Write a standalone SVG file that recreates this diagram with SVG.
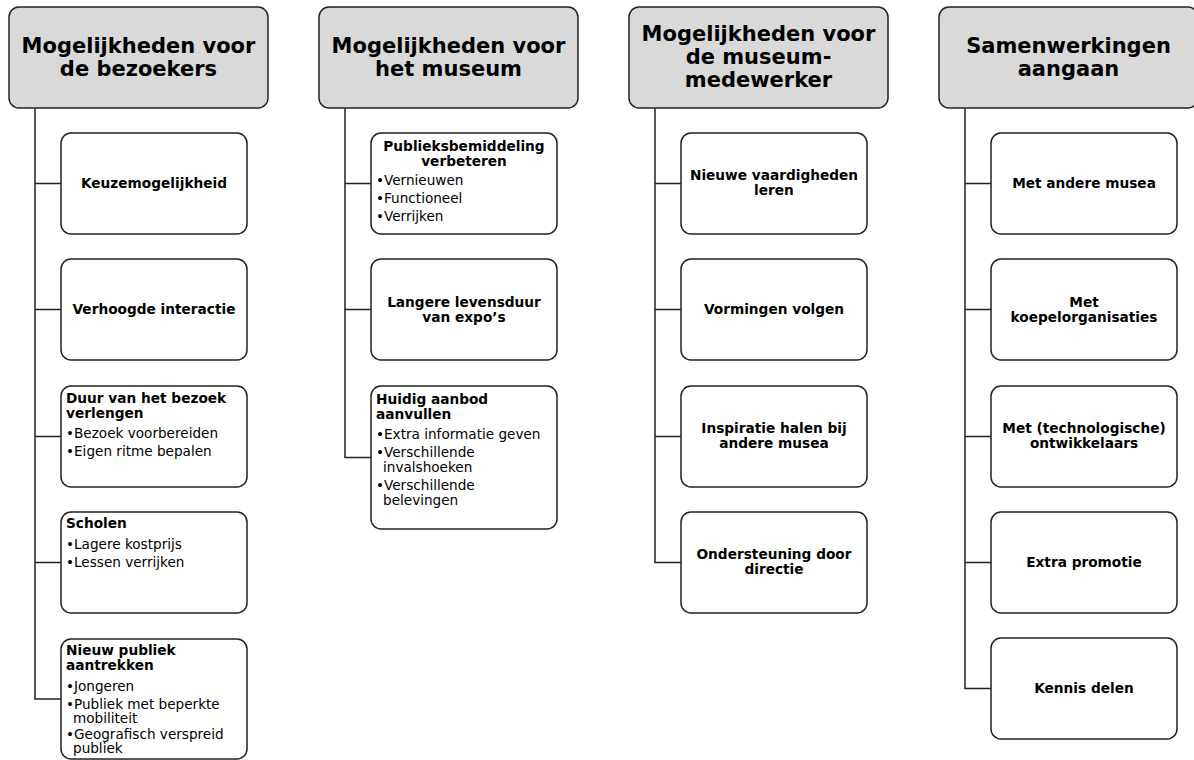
<svg xmlns="http://www.w3.org/2000/svg" width="1194" height="760" viewBox="0 0 1194 760">
<style>
.hd{fill:#d9d9d9;stroke:#222;stroke-width:1.5}
.bx{fill:#fff;stroke:#222;stroke-width:1.5}
.ht{font-family:"DejaVu Sans",Verdana,sans-serif;font-weight:bold;font-size:21px;fill:#000;text-anchor:middle}
.ct{font-family:"DejaVu Sans",Verdana,sans-serif;font-weight:bold;font-size:13.7px;fill:#000;text-anchor:middle}
.lh{font-family:"DejaVu Sans",Verdana,sans-serif;font-weight:bold;font-size:13.7px;fill:#000}
.bt{font-family:"DejaVu Sans",Verdana,sans-serif;font-size:13.6px;fill:#000}
.cn{fill:none;stroke:#222;stroke-width:1.5}
</style>
<rect width="1194" height="760" fill="#fff"/>
<g id="connectors">
<path class="cn" d="M35 108V699H61M35 183.5H61M35 309.5H61M35 436.5H61M35 562.5H61"/>
<path class="cn" d="M345 108V457.5H371M345 183.5H371M345 309.5H371"/>
<path class="cn" d="M655 108V562.5H681M655 183.5H681M655 309.5H681M655 436.5H681"/>
<path class="cn" d="M965 108V688.5H991M965 183.5H991M965 309.5H991M965 436.5H991M965 562.5H991"/>
</g>
<g id="h1"><rect class="hd" x="9" y="7" width="259" height="101" rx="10"/><text class="ht" x="138.5" y="53">Mogelijkheden voor</text><text class="ht" x="138.5" y="76">de bezoekers</text></g>
<g id="h2"><rect class="hd" x="319" y="7" width="259" height="101" rx="10"/><text class="ht" x="448.5" y="53">Mogelijkheden voor</text><text class="ht" x="448.5" y="76">het museum</text></g>
<g id="h3"><rect class="hd" x="629" y="7" width="259" height="101" rx="10"/><text class="ht" x="758.5" y="41">Mogelijkheden voor</text><text class="ht" x="758.5" y="64">de museum-</text><text class="ht" x="758.5" y="87">medewerker</text></g>
<g id="h4"><rect class="hd" x="939" y="7" width="259" height="101" rx="10"/><text class="ht" x="1068.5" y="53">Samenwerkingen</text><text class="ht" x="1068.5" y="76">aangaan</text></g>

<g id="c1n1"><rect class="bx" x="61" y="133" width="186" height="101" rx="10"/><text class="ct" x="154" y="188">Keuzemogelijkheid</text></g>
<g id="c1n2"><rect class="bx" x="61" y="259" width="186" height="101" rx="10"/><text class="ct" x="154" y="314">Verhoogde interactie</text></g>
<g id="c1n3"><rect class="bx" x="61" y="386" width="186" height="101" rx="10"/><text class="lh" x="66" y="403">Duur van het bezoek</text><text class="lh" x="66" y="418">verlengen</text><text class="bt" x="66" y="438">•Bezoek voorbereiden</text><text class="bt" x="66" y="456">•Eigen ritme bepalen</text></g>
<g id="c1n4"><rect class="bx" x="61" y="512" width="186" height="101" rx="10"/><text class="lh" x="66" y="528">Scholen</text><text class="bt" x="66" y="549">•Lagere kostprijs</text><text class="bt" x="66" y="567">•Lessen verrijken</text></g>
<g id="c1n5"><rect class="bx" x="61" y="639" width="186" height="120" rx="10"/><text class="lh" x="66" y="655">Nieuw publiek</text><text class="lh" x="66" y="670">aantrekken</text><text class="bt" x="66" y="691">•Jongeren</text><text class="bt" x="66" y="709">•Publiek met beperkte</text><text class="bt" x="73" y="723">mobiliteit</text><text class="bt" x="66" y="739">•Geografisch verspreid</text><text class="bt" x="73" y="753">publiek</text></g>

<g id="c2n1"><rect class="bx" x="371" y="133" width="186" height="101" rx="10"/><text class="ct" x="464" y="151">Publieksbemiddeling</text><text class="ct" x="464" y="166">verbeteren</text><text class="bt" x="376" y="185">•Vernieuwen</text><text class="bt" x="376" y="203">•Functioneel</text><text class="bt" x="376" y="221">•Verrijken</text></g>
<g id="c2n2"><rect class="bx" x="371" y="259" width="186" height="101" rx="10"/><text class="ct" x="464" y="307">Langere levensduur</text><text class="ct" x="464" y="322">van expo’s</text></g>
<g id="c2n3"><rect class="bx" x="371" y="386" width="186" height="143" rx="10"/><text class="lh" x="376" y="404">Huidig aanbod</text><text class="lh" x="376" y="419">aanvullen</text><text class="bt" x="376" y="439">•Extra informatie geven</text><text class="bt" x="376" y="457">•Verschillende</text><text class="bt" x="383" y="472">invalshoeken</text><text class="bt" x="376" y="490">•Verschillende</text><text class="bt" x="383" y="505">belevingen</text></g>

<g id="c3n1"><rect class="bx" x="681" y="133" width="186" height="101" rx="10"/><text class="ct" x="774" y="180">Nieuwe vaardigheden</text><text class="ct" x="774" y="195">leren</text></g>
<g id="c3n2"><rect class="bx" x="681" y="259" width="186" height="101" rx="10"/><text class="ct" x="774" y="314">Vormingen volgen</text></g>
<g id="c3n3"><rect class="bx" x="681" y="386" width="186" height="101" rx="10"/><text class="ct" x="774" y="433">Inspiratie halen bij</text><text class="ct" x="774" y="448">andere musea</text></g>
<g id="c3n4"><rect class="bx" x="681" y="512" width="186" height="101" rx="10"/><text class="ct" x="774" y="559">Ondersteuning door</text><text class="ct" x="774" y="574">directie</text></g>

<g id="c4n1"><rect class="bx" x="991" y="133" width="186" height="101" rx="10"/><text class="ct" x="1084" y="188">Met andere musea</text></g>
<g id="c4n2"><rect class="bx" x="991" y="259" width="186" height="101" rx="10"/><text class="ct" x="1084" y="307">Met</text><text class="ct" x="1084" y="322">koepelorganisaties</text></g>
<g id="c4n3"><rect class="bx" x="991" y="386" width="186" height="101" rx="10"/><text class="ct" x="1084" y="433">Met (technologische)</text><text class="ct" x="1084" y="448">ontwikkelaars</text></g>
<g id="c4n4"><rect class="bx" x="991" y="512" width="186" height="101" rx="10"/><text class="ct" x="1084" y="567">Extra promotie</text></g>
<g id="c4n5"><rect class="bx" x="991" y="638" width="186" height="101" rx="10"/><text class="ct" x="1084" y="693">Kennis delen</text></g>
</svg>
